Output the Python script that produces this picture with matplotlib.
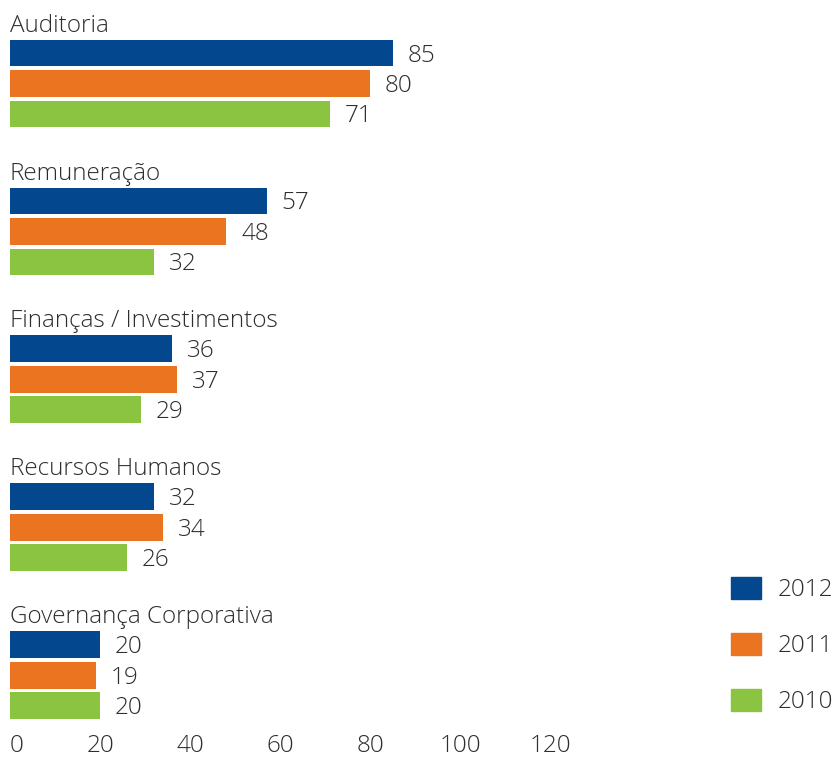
import matplotlib.pyplot as plt
from matplotlib.patches import Patch

# Committee counts per year
categories = ['Auditoria', 'Remuneração', 'Finanças / Investimentos',
              'Recursos Humanos', 'Governança Corporativa']
years = ['2012', '2011', '2010']
v2012 = [85, 57, 36, 32, 20]
v2011 = [80, 48, 37, 34, 19]
v2010 = [71, 32, 29, 26, 20]
ticks = [0, 20, 40, 60, 80, 100, 120]

colors = ['#03478E', '#EB7420', '#8AC441']
text_color = '#2e2e2e'
plt.rcParams['font.family'] = ['Open Sans', 'DejaVu Sans']
plt.rcParams['font.weight'] = 'light'
fs = 17.5

W, H = 837, 760
fig = plt.figure(figsize=(W / 100, H / 100), dpi=100)

# axes in pixel-ish layout: left edge at 10px, x axis line at 720px
px_per_unit = 4.5
slot = 30.5            # vertical pitch of one bar, px
group_step = 4.85      # in bar slots
top_unit = -53 / slot
bottom_unit = (720 - 53) / slot
ax = fig.add_axes([10 / W, 1 - 720 / H, (W - 10) / W, 720 / H])
ax.set_xlim(0, (W - 10) / px_per_unit)
ax.set_ylim(bottom_unit, top_unit)

series = [v2012, v2011, v2010]
for g, cat in enumerate(categories):
    base = g * group_step
    ax.text(0, base - 0.7, cat, fontsize=fs, color=text_color,
            va='baseline', ha='left')
    for s, vals in enumerate(series):
        y = base + s
        ax.barh(y, vals[g], height=0.88, color=colors[s], align='center')
        ax.annotate(str(vals[g]), (vals[g], y), xytext=(15, -8.5),
                    textcoords='offset pixels', va='baseline', ha='left',
                    fontsize=fs, color=text_color)

ax.set_xticks(ticks)
ax.set_xticklabels([str(t) for t in ticks], fontsize=fs, color=text_color)
ax.get_xticklabels()[0].set_ha('left')
ax.tick_params(axis='x', length=0, pad=10)
ax.set_yticks([])
for sp in ax.spines.values():
    sp.set_visible(False)

handles = [Patch(color=c, label=y) for c, y in zip(colors, years)]
fig.legend(handles=handles, loc='upper left',
           bbox_to_anchor=(731 / W, 1 - 577 / H), frameon=False,
           fontsize=fs, handlelength=1.23, handleheight=1.03,
           labelspacing=1.25, handletextpad=0.68, borderpad=0,
           borderaxespad=0, labelcolor=text_color)

fig.savefig('out.png', dpi=100)
